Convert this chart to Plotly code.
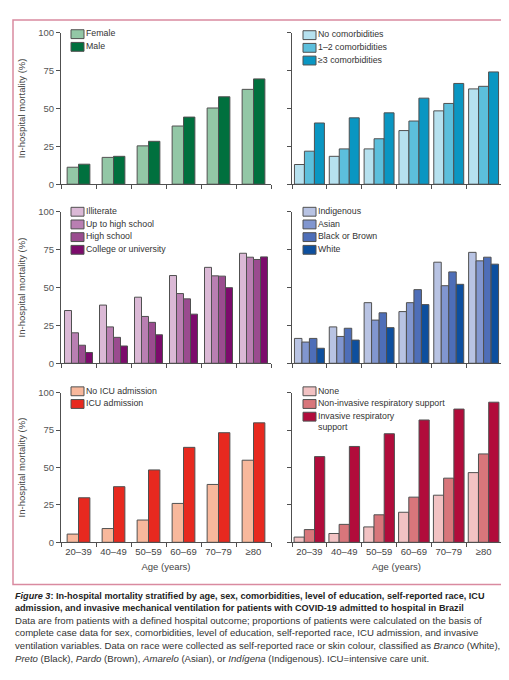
import plotly.graph_objects as go

W, H = 509, 680

ages = ["20–39", "40–49", "50–59", "60–69", "70–79", "≥80"]

sex_names = ["Female", "Male"]
sex_female = [11.2, 17.7, 25.3, 38.4, 50.3, 62.6]
sex_male = [13.2, 18.4, 28.3, 44.3, 57.7, 69.5]

comorb_names = ["No comorbidities", "1–2 comorbidities", "≥3 comorbidities"]
comorb_none = [13.0, 18.4, 23.3, 35.4, 48.4, 62.9]
comorb_1_2 = [21.8, 23.3, 30.0, 41.7, 53.3, 64.6]
comorb_3plus = [40.4, 43.8, 47.1, 56.8, 66.5, 74.1]

edu_names = ["Illiterate", "Up to high school", "High school", "College or university"]
edu_illiterate = [34.8, 38.4, 43.6, 57.9, 63.3, 72.6]
edu_up_to_hs = [20.1, 24.0, 30.9, 46.0, 57.7, 70.0]
edu_hs = [11.9, 17.1, 27.0, 42.5, 57.5, 68.5]
edu_college = [7.1, 11.4, 18.8, 32.4, 49.9, 70.2]

race_names = ["Indigenous", "Asian", "Black or Brown", "White"]
race_indigenous = [16.4, 24.0, 40.0, 34.1, 66.7, 73.2]
race_asian = [14.0, 17.7, 28.5, 40.0, 51.2, 67.6]
race_black_brown = [16.4, 23.1, 33.3, 48.6, 60.3, 70.0]
race_white = [9.9, 15.3, 23.5, 38.7, 52.1, 65.4]

icu_names = ["No ICU admission", "ICU admission"]
icu_no = [5.5, 9.2, 14.9, 26.0, 38.7, 54.9]
icu_yes = [29.8, 37.2, 48.4, 63.5, 73.3, 79.9]

vent_names = ["None", "Non-invasive respiratory support", "Invasive respiratory<br>support"]
vent_none = [3.5, 5.9, 10.3, 20.1, 31.5, 46.6]
vent_noninvasive = [8.5, 12.0, 18.4, 30.2, 42.9, 59.1]
vent_invasive = [57.3, 64.1, 72.6, 81.8, 89.1, 93.7]

y_ticks = [0, 25, 50, 75, 100]

caption_lines = [
    "<b><i>Figure 3</i>: In-hospital mortality stratified by age, sex, comorbidities, level of education, self-reported race, ICU</b>",
    "<b>admission, and invasive mechanical ventilation for patients with COVID-19 admitted to hospital in Brazil</b>",
    "Data are from patients with a defined hospital outcome; proportions of patients were calculated on the basis of",
    "complete case data for sex, comorbidities, level of education, self-reported race, ICU admission, and invasive",
    "ventilation variables. Data on race were collected as self-reported race or skin colour, classified as <i>Branco</i> (White),",
    "<i>Preto</i> (Black), <i>Pardo</i> (Brown), <i>Amarelo</i> (Asian), or <i>Indígena</i> (Indigenous). ICU=intensive care unit.",
]


def px_x(x):
    return x / W


def px_y(y):
    return 1 - y / H


FONT = "Liberation Sans, Arial, sans-serif"
OUTLINE = "#505050"

# panel geometry in pixels: (x0, x1) per column, (ytop, ybottom) per row
cols = [(53, 263), (284, 493)]
rows = [(19, 173), (201, 355), (385, 537)]

panels = [
    # (row, col, series list, names, colors, gap)
    (0, 0, [sex_female, sex_male], sex_names, ["#93c7a6", "#00703e"], 0.35),
    (0, 1, [comorb_none, comorb_1_2, comorb_3plus], comorb_names, ["#b6e1ef", "#5cbfdc", "#0a96c2"], 0.14),
    (1, 0, [edu_illiterate, edu_up_to_hs, edu_hs, edu_college], edu_names,
     ["#dbb9d6", "#b97fb2", "#9a4c8f", "#7c0b6c"], 0.2),
    (1, 1, [race_indigenous, race_asian, race_black_brown, race_white], race_names,
     ["#b8c3e3", "#8196cf", "#4e6eb8", "#0d4f9e"], 0.14),
    (2, 0, [icu_no, icu_yes], icu_names, ["#f8b89c", "#e7291f"], 0.35),
    (2, 1, [vent_none, vent_noninvasive, vent_invasive], vent_names, ["#f2c2c3", "#d8767b", "#b10c3b"], 0.12),
]

# legend placement: swatch left x and first row centre y (pixels)
legend_pos = [(63, 20.5), (295, 21.5), (63, 201), (295, 201), (63, 383.5), (295, 383.5)]
LEG_STEP = 12.9
SW_W, SW_H = 13, 9

fig = go.Figure()
layout = {}
shapes = []
annotations = []
for k, (r, c, series, names, colors, gap) in enumerate(panels):
    idx = k + 1
    xa = "x" if idx == 1 else f"x{idx}"
    ya = "y" if idx == 1 else f"y{idx}"
    n = len(series)
    w = (1 - gap) / n
    for i, (vals, name, col) in enumerate(zip(series, names, colors)):
        fig.add_trace(go.Bar(
            x=ages, y=vals, name=name.replace("<br>", " "), xaxis=xa, yaxis=ya,
            width=w, offset=-(1 - gap) / 2 + i * w, showlegend=False,
            marker=dict(color=col, line=dict(color=OUTLINE, width=1)),
            hovertemplate="%{x}: %{y:.0f}%<extra>" + name.replace("<br>", " ") + "</extra>",
        ))
    x0, x1 = cols[c]
    yt, yb = rows[r]
    xkey = "xaxis" if idx == 1 else f"xaxis{idx}"
    ykey = "yaxis" if idx == 1 else f"yaxis{idx}"
    layout[xkey] = dict(
        domain=[px_x(x0), px_x(x1)], anchor=ya, type="category",
        range=[-0.5, 5.5], showline=True, linecolor=OUTLINE, linewidth=1,
        ticks="outside", tickson="boundaries", ticklen=4, tickcolor=OUTLINE,
        showgrid=False, zeroline=False, showticklabels=(r == 2), tickangle=0,
        tickfont=dict(family=FONT, size=9.5, color="#444"),
        title=dict(text="Age (years)" if r == 2 else "", font=dict(family=FONT, size=9.5, color="#444"), standoff=7),
        fixedrange=True,
    )
    layout[ykey] = dict(
        domain=[px_y(yb), px_y(yt)], anchor=xa, range=[0, 100],
        tickvals=y_ticks, showline=True, linecolor=OUTLINE, linewidth=1,
        ticks="outside", ticklen=4, tickcolor=OUTLINE, showgrid=False, zeroline=False,
        showticklabels=(c == 0),
        tickfont=dict(family=FONT, size=9.5, color="#555"),
        title=dict(text="In-hospital mortality (%)" if c == 0 else "", font=dict(family=FONT, size=9.5, color="#444"), standoff=10),
        fixedrange=True,
    )
    # per-panel key
    lx, ly = legend_pos[k]
    for i, (name, col) in enumerate(zip(names, colors)):
        cy = ly + i * LEG_STEP
        shapes.append(dict(
            type="rect", xref="paper", yref="paper",
            x0=px_x(lx), x1=px_x(lx + SW_W), y0=px_y(cy + SW_H / 2), y1=px_y(cy - SW_H / 2),
            fillcolor=col, line=dict(color=OUTLINE, width=1),
        ))
        annotations.append(dict(
            text=name, x=px_x(lx + SW_W + 1), y=px_y(cy - 6.8), xref="paper", yref="paper",
            xanchor="left", yanchor="top", align="left", showarrow=False,
            font=dict(family=FONT, size=8.8, color="#333"), borderpad=0,
        ))

cap_y = [592, 603.5, 616.5, 629, 642, 655.5]
for txt, y in zip(caption_lines, cap_y):
    bold = txt.startswith("<b>")
    annotations.append(dict(
        text=txt, x=px_x(5), y=px_y(y), xref="paper", yref="paper",
        xanchor="left", yanchor="middle", showarrow=False,
        font=dict(family=FONT, size=9.1 if bold else 9.6, color="#222" if bold else "#333"),
    ))

shapes += [
    dict(type="rect", xref="paper", yref="paper", x0=px_x(5), x1=px_x(501), y0=px_y(580), y1=px_y(6),
         line=dict(color="#d98aa0", width=1.5), fillcolor="rgba(0,0,0,0)", layer="below"),
    dict(type="line", xref="paper", yref="paper", x0=0, x1=1, y0=px_y(678), y1=px_y(678),
         line=dict(color="#1f3a30", width=2)),
]

fig.update_layout(
    **layout,
    width=W, height=H, margin=dict(l=0, r=0, t=0, b=0),
    paper_bgcolor="white", plot_bgcolor="white",
    barmode="overlay", showlegend=False,
    annotations=annotations, shapes=shapes,
    font=dict(family=FONT, color="#333"),
)

fig.write_html("out.html")
